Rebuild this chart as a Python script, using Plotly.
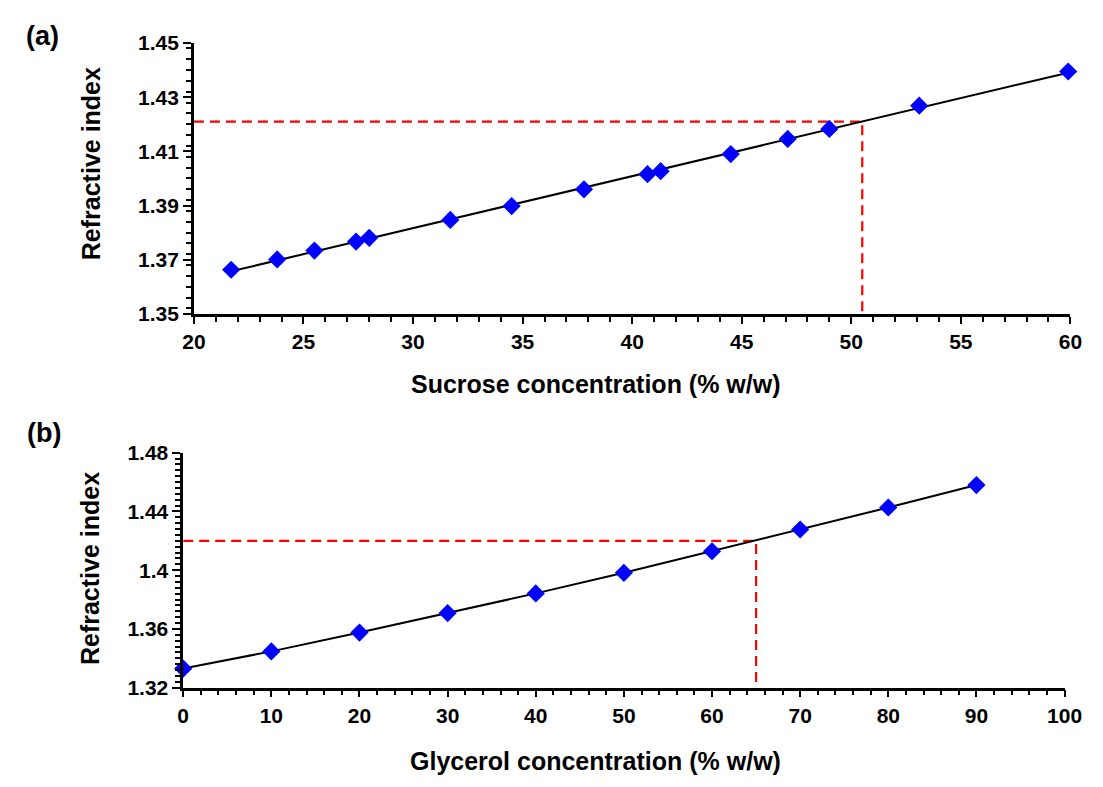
import numpy as np
import plotly.graph_objects as go

# ---------------- data ----------------
sucrose_conc = [21.7, 23.8, 25.5, 27.4, 28.0, 31.7, 34.5, 37.8, 40.7, 41.3, 44.5, 47.1, 49.0, 53.1, 59.9]
sucrose_ri = [1.3663, 1.3701, 1.3734, 1.3767, 1.3781, 1.3847, 1.3898, 1.3960, 1.4016, 1.4027,
              1.4090, 1.4146, 1.4183, 1.4269, 1.4395]
sucrose_target_conc = 50.5
sucrose_target_ri = 1.421

glycerol_conc = [0, 10, 20, 30, 40, 50, 60, 70, 80, 90]
glycerol_ri = [1.3330, 1.3447, 1.3575, 1.3708, 1.3842, 1.3982, 1.4129, 1.4277, 1.4427, 1.4580]
glycerol_target_conc = 65
glycerol_target_ri = 1.420

a_xticks = [20, 25, 30, 35, 40, 45, 50, 55, 60]
a_yticks = [1.35, 1.37, 1.39, 1.41, 1.43, 1.45]
a_ytext = ["1.35", "1.37", "1.39", "1.41", "1.43", "1.45"]
b_xticks = [0, 10, 20, 30, 40, 50, 60, 70, 80, 90, 100]
b_yticks = [1.32, 1.36, 1.40, 1.44, 1.48]
b_ytext = ["1.32", "1.36", "1.4", "1.44", "1.48"]

# ---------------- figure ----------------
W, H = 1103, 787
FONT = "Liberation Sans, Arial, sans-serif"
BLUE = "#0000FF"
RED = "#FF0000"

def px_x(p):
    return p / W

def px_y(p):
    return 1 - p / H

fig = go.Figure()

# Panel (a)
coef = np.polyfit(sucrose_conc, sucrose_ri, 1)
fit_x = [min(sucrose_conc), max(sucrose_conc)]
fit_y = list(np.polyval(coef, fit_x))
a_x0 = a_xticks[0]
a_y0 = a_yticks[0]

dash_line = dict(color=RED, width=2.2, dash="10px,6px")

fig.add_trace(go.Scatter(x=[a_x0, sucrose_target_conc, sucrose_target_conc],
                         y=[sucrose_target_ri, sucrose_target_ri, a_y0],
                         mode="lines", line=dash_line,
                         xaxis="x", yaxis="y", showlegend=False, hoverinfo="skip"))
fig.add_trace(go.Scatter(x=fit_x, y=fit_y, mode="lines",
                         line=dict(color="black", width=2),
                         xaxis="x", yaxis="y", showlegend=False))
fig.add_trace(go.Scatter(x=sucrose_conc, y=sucrose_ri, mode="markers",
                         marker=dict(symbol="diamond", size=14, color=BLUE),
                         cliponaxis=False, xaxis="x", yaxis="y", showlegend=False))

# Panel (b)
b_x0 = b_xticks[0]
b_y0 = b_yticks[0]
fig.add_trace(go.Scatter(x=[b_x0, glycerol_target_conc, glycerol_target_conc],
                         y=[glycerol_target_ri, glycerol_target_ri, b_y0],
                         mode="lines", line=dash_line,
                         xaxis="x2", yaxis="y2", showlegend=False, hoverinfo="skip"))
fig.add_trace(go.Scatter(x=glycerol_conc, y=glycerol_ri, mode="lines",
                         line=dict(color="black", width=2),
                         xaxis="x2", yaxis="y2", showlegend=False))
fig.add_trace(go.Scatter(x=glycerol_conc, y=glycerol_ri, mode="markers",
                         marker=dict(symbol="diamond", size=14, color=BLUE),
                         cliponaxis=False, xaxis="x2", yaxis="y2", showlegend=False))

tickfont = dict(family=FONT, size=21, color="black", weight="bold")
axis_common = dict(showline=True, linecolor="black", linewidth=2.5, showgrid=False,
                   zeroline=False, ticks="outside", tickcolor="black", tickwidth=2,
                   tickfont=tickfont, fixedrange=True)

fig.update_layout(
    width=W, height=H,
    margin=dict(l=0, r=0, t=0, b=0),
    paper_bgcolor="white", plot_bgcolor="white",
    xaxis=dict(domain=[px_x(187), px_x(1088)], range=[a_xticks[0], a_xticks[-1]],
               tickvals=a_xticks, ticklen=7, anchor="y",
               minor=dict(dtick=1, ticklen=5, tickwidth=2, ticks="outside", tickcolor="black"),
               **axis_common),
    yaxis=dict(domain=[px_y(311), px_y(32)], range=[a_yticks[0], a_yticks[-1]],
               tickvals=a_yticks, ticktext=a_ytext, ticklen=8, anchor="x",
               minor=dict(dtick=0.004, ticklen=5, tickwidth=2, ticks="outside", tickcolor="black"),
               **axis_common),
    xaxis2=dict(domain=[px_x(176), px_x(1082)], range=[b_xticks[0], b_xticks[-1]],
                tickvals=b_xticks, ticklen=7, anchor="y2",
                minor=dict(dtick=2, ticklen=5, tickwidth=2, ticks="outside", tickcolor="black"),
                **axis_common),
    yaxis2=dict(domain=[px_y(696), px_y(454)], range=[b_yticks[0], b_yticks[-1]],
                tickvals=b_yticks, ticktext=b_ytext, ticklen=8, anchor="x2",
                minor=dict(dtick=0.004, ticklen=5, tickwidth=2, ticks="outside", tickcolor="black"),
                **axis_common),
)

titlefont = dict(family=FONT, size=25, color="black", weight="bold")
labelfont = dict(family=FONT, size=27, color="black", weight="bold")
annots = [
    dict(text="Sucrose concentration (% w/w)", x=px_x(600), y=px_y(383), font=titlefont),
    dict(text="Glycerol concentration (% w/w)", x=px_x(600), y=px_y(772), font=titlefont),
    dict(text="Refractive index", x=px_x(82), y=px_y(156), font=titlefont, textangle=-90),
    dict(text="Refractive index", x=px_x(80), y=px_y(573), font=titlefont, textangle=-90),
    dict(text="(a)", x=px_x(31), y=px_y(25), font=labelfont),
    dict(text="(b)", x=px_x(33), y=px_y(434), font=labelfont),
]
for a in annots:
    fig.add_annotation(xref="paper", yref="paper", showarrow=False,
                       xanchor="center", yanchor="middle", **a)

fig.write_html("out.html", config={"displayModeBar": False},
               post_script="document.body.style.margin='0';document.body.style.padding='0';")
